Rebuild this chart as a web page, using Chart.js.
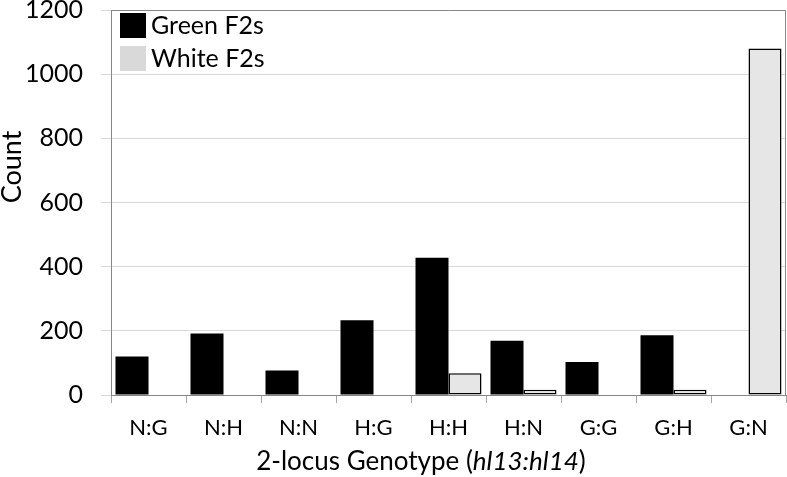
<!DOCTYPE html>
<html>
<head>
<meta charset="utf-8">
<script src="https://cdn.jsdelivr.net/npm/chart.js@4.4.1/dist/chart.umd.min.js"></script>
<style>
  html, body { margin: 0; padding: 0; background: #fff; }
  #wrap { width: 787px; height: 477px; }
</style>
</head>
<body>
<div id="wrap"><canvas id="genotypeChart" width="787" height="477"></canvas></div>
<script>
// Chart data
const categories = ['N:G', 'N:H', 'N:N', 'H:G', 'H:H', 'H:N', 'G:G', 'G:H', 'G:N'];
const greenF2s = [120, 192, 76, 233, 428, 169, 103, 186, 0];
const whiteF2s = [0, 0, 0, 0, 68, 16, 0, 16, 1080];
const yMin = 0, yMax = 1200, yStep = 200;

const FONT = 'Lato';

// legend drawn inside the plot, top left
const insideLegend = {
  id: 'insideLegend',
  afterDraw(chart, args, opts) {
    const { ctx, chartArea } = chart;
    ctx.save();
    ctx.font = '25px ' + FONT;
    ctx.textBaseline = 'middle';
    chart.data.datasets.forEach((ds, i) => {
      const y = chartArea.top + 3 + i * 33;
      ctx.fillStyle = opts.swatches[i];
      ctx.fillRect(chartArea.left + 9, y, 26, 25);
      ctx.fillStyle = '#000';
      ctx.fillText(ds.label, chartArea.left + 40, y + 13);
    });
    ctx.restore();
  }
};

// box round the plot + axis titles (x title has an italic part)
const frameAndTitles = {
  id: 'frameAndTitles',
  beforeDatasetsDraw(chart) {
    const { ctx, chartArea: a } = chart;
    ctx.save();
    ctx.strokeStyle = '#868686';
    ctx.lineWidth = 1;
    ctx.beginPath();
    ctx.moveTo(a.left, a.top + 0.5);
    ctx.lineTo(a.right - 0.5, a.top + 0.5);
    ctx.lineTo(a.right - 0.5, a.bottom);
    ctx.stroke();
    ctx.restore();
  },
  afterDraw(chart) {
    const { ctx } = chart;
    ctx.save();
    ctx.fillStyle = '#000';
    ctx.textBaseline = 'middle';
    // y title
    ctx.font = '27px ' + FONT;
    ctx.save();
    ctx.translate(12, 167);
    ctx.rotate(-Math.PI / 2);
    ctx.textAlign = 'center';
    ctx.fillText('Count', 0, 0);
    ctx.restore();
    // x title
    const parts = [
      ['2-locus Genotype (', ''],
      ['hl13:hl14', 'italic '],
      [')', '']
    ];
    let total = 0;
    parts.forEach(p => { ctx.font = p[1] + '26px ' + FONT; total += ctx.measureText(p[0]).width; });
    let x = 421 - total / 2;
    ctx.textAlign = 'left';
    parts.forEach(p => {
      ctx.font = p[1] + '26px ' + FONT;
      ctx.fillText(p[0], x, 462);
      x += ctx.measureText(p[0]).width;
    });
    ctx.restore();
  }
};

const data = {
  labels: categories,
  datasets: [
    {
      label: 'Green F2s',
      data: greenF2s,
      backgroundColor: '#000000',
      borderWidth: 0
    },
    {
      label: 'White F2s',
      data: whiteF2s,
      backgroundColor: '#e6e6e6',
      borderColor: '#000000',
      borderWidth: c => (c.raw > 0 ? 1.5 : 0),
      borderSkipped: false
    }
  ]
};

const config = {
  type: 'bar',
  data: data,
  options: {
    responsive: false,
    animation: false,
    layout: { padding: { top: 10, right: 1, left: 0, bottom: 0 } },
    datasets: { bar: { barPercentage: 1, categoryPercentage: 0.88 } },
    plugins: {
      legend: { display: false },
      tooltip: { enabled: false },
      insideLegend: { swatches: ['#000000', '#d9d9d9'] }
    },
    scales: {
      x: {
        afterFit: s => { s.height = 82; s.paddingLeft = 0; s.paddingRight = 0; },
        grid: { offset: true, drawOnChartArea: false, tickLength: 8, color: '#a6a6a6' },
        border: { color: '#868686', width: 1 },
        ticks: { color: '#000', font: { family: FONT, size: 22 }, padding: 12 }
      },
      y: {
        min: yMin,
        max: yMax,
        afterFit: s => { s.width = 111; s.paddingTop = 0; s.paddingBottom = 0; },
        grid: { color: '#d9d9d9', tickLength: 10 },
        border: { color: '#868686', width: 1 },
        ticks: {
          stepSize: yStep,
          color: '#000',
          font: { family: FONT, size: 25, lineHeight: 1 },
          padding: 18,
          callback: v => String(v)
        }
      }
    }
  },
  plugins: [insideLegend, frameAndTitles]
};

new Chart(document.getElementById('genotypeChart'), config);
</script>
</body>
</html>
